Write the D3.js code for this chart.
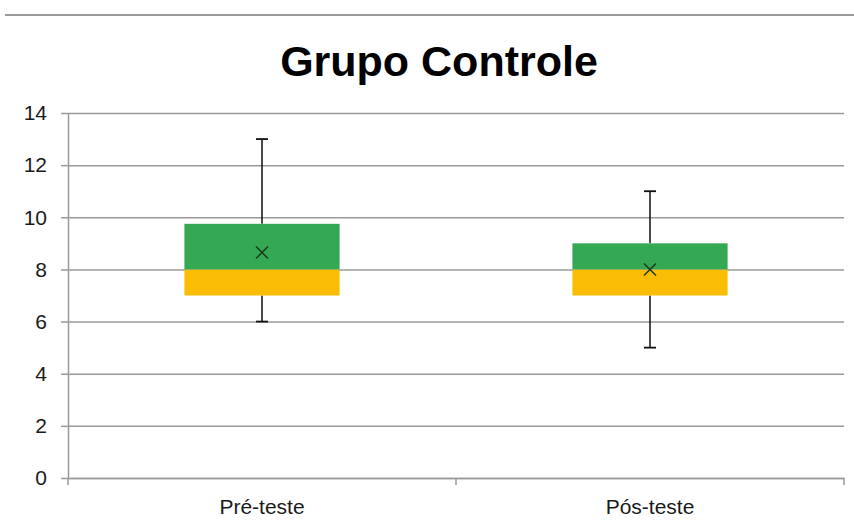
<!DOCTYPE html>
<html>
<head>
<meta charset="utf-8">
<script src="https://cdn.jsdelivr.net/npm/d3@7"></script>
<style>
  body { margin: 0; background: #fff; }
  svg { display: block; font-family: Arial, "Liberation Sans", sans-serif; }
</style>
</head>
<body>
<div id="chart"></div>
<script>
// data
const categories = ['Pré-teste', 'Pós-teste'];
const mins = [6, 5];
const q1s = [7, 7];
const medians = [8, 8];
const q3s = [9.75, 9];
const maxs = [13, 11];
const means = [8.65, 8];
const yTicks = [0, 2, 4, 6, 8, 10, 12, 14];

const width = 854, height = 524;
const margin = { top: 113, right: 10, bottom: 46, left: 68 };

const svg = d3.select('#chart').append('svg')
    .attr('width', width)
    .attr('height', height);

// thin rule across the top
svg.append('line')
    .attr('x1', 5).attr('x2', width)
    .attr('y1', 15).attr('y2', 15)
    .attr('stroke', '#9a9a9a')
    .attr('stroke-width', 2);

svg.append('text')
    .attr('x', 439)
    .attr('y', 76)
    .attr('text-anchor', 'middle')
    .style('font-size', '43px')
    .style('font-weight', 'bold')
    .attr('fill', '#000')
    .text('Grupo Controle');

const plotW = 844 - margin.left;
const plotH = 478 - margin.top;

const g = svg.append('g')
    .attr('transform', `translate(${margin.left},${margin.top})`);

const x = d3.scaleBand()
    .domain(categories)
    .range([0, plotW]);

const y = d3.scaleLinear()
    .domain([0, 14])
    .range([plotH, 0]);

// horizontal grid
g.append('g')
    .call(d3.axisLeft(y).tickValues(yTicks).tickSize(-plotW).tickFormat(''))
    .call(s => s.select('.domain').remove())
    .selectAll('line')
    .attr('stroke', '#9a9a9a')
    .attr('stroke-width', 1.5);

// y axis
const yAxis = g.append('g')
    .call(d3.axisLeft(y).tickValues(yTicks).tickSize(7).tickPadding(14).tickSizeOuter(0));
yAxis.select('.domain').attr('stroke', '#9a9a9a').attr('stroke-width', 1.5);
yAxis.selectAll('line').attr('stroke', '#9a9a9a').attr('stroke-width', 1.5);
yAxis.selectAll('text')
    .style('font-size', '21px')
    .attr('fill', '#1a1a1a');

// x axis: ticks on band boundaries
const xAxis = g.append('g')
    .attr('transform', `translate(0,${plotH})`)
    .call(d3.axisBottom(x).tickSize(0).tickPadding(21));
xAxis.select('.domain').attr('stroke', '#9a9a9a').attr('stroke-width', 1.5);
xAxis.selectAll('text')
    .style('font-size', '21px')
    .attr('fill', '#1a1a1a');

const bounds = [0].concat(categories.map(c => x(c) + x.bandwidth()));
xAxis.selectAll('.bound')
    .data(bounds)
    .enter()
    .append('line')
    .attr('class', 'bound')
    .attr('x1', d => d).attr('x2', d => d)
    .attr('y1', 0).attr('y2', 7)
    .attr('stroke', '#9a9a9a')
    .attr('stroke-width', 1.5);

const boxW = x.bandwidth() * 0.4;
const capW = 12;
const cx = i => x(categories[i]) + x.bandwidth() / 2;

categories.forEach((c, i) => {
    const box = g.append('g');

    // whiskers
    box.append('line')
        .attr('x1', cx(i)).attr('x2', cx(i))
        .attr('y1', y(maxs[i])).attr('y2', y(q3s[i]))
        .attr('stroke', '#111').attr('stroke-width', 1.5);
    box.append('line')
        .attr('x1', cx(i)).attr('x2', cx(i))
        .attr('y1', y(q1s[i])).attr('y2', y(mins[i]))
        .attr('stroke', '#111').attr('stroke-width', 1.5);
    [maxs[i], mins[i]].forEach(v => {
        box.append('line')
            .attr('x1', cx(i) - capW / 2).attr('x2', cx(i) + capW / 2)
            .attr('y1', y(v)).attr('y2', y(v))
            .attr('stroke', '#111').attr('stroke-width', 1.8);
    });

    // lower part of box (Q1 to median)
    box.append('rect')
        .attr('x', cx(i) - boxW / 2)
        .attr('width', boxW)
        .attr('y', y(medians[i]))
        .attr('height', y(q1s[i]) - y(medians[i]))
        .attr('fill', '#fbbc04');

    // upper part of box (median to Q3)
    box.append('rect')
        .attr('x', cx(i) - boxW / 2)
        .attr('width', boxW)
        .attr('y', y(q3s[i]))
        .attr('height', y(medians[i]) - y(q3s[i]))
        .attr('fill', '#34a853');

    // mean marker
    const m = 6;
    box.append('path')
        .attr('d', `M${cx(i) - m},${y(means[i]) - m}L${cx(i) + m},${y(means[i]) + m}M${cx(i) - m},${y(means[i]) + m}L${cx(i) + m},${y(means[i]) - m}`)
        .attr('stroke', '#1b3a1f')
        .attr('stroke-width', 1.5);
});
</script>
</body>
</html>
